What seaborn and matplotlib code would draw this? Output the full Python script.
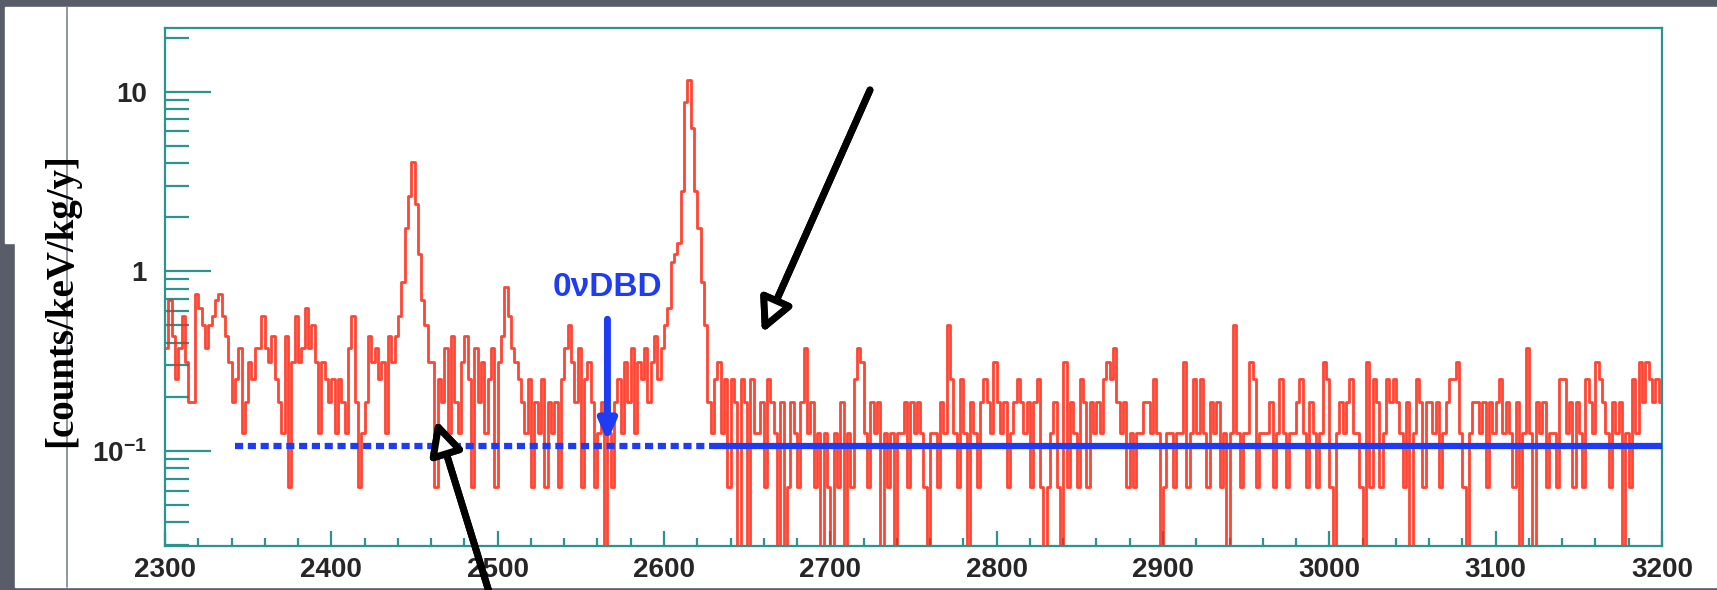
import numpy as np
import pandas as pd
import matplotlib
matplotlib.use('Agg')
import matplotlib.pyplot as plt
from matplotlib.patches import Rectangle
from matplotlib.lines import Line2D
from matplotlib.ticker import FixedLocator, FixedFormatter, LogLocator, MultipleLocator, NullFormatter
import seaborn as sns

# spectrum: counts per 2 keV bin, starting at 2300 keV
bin_start = 2300
bin_width = 2
unit = 0.0625  # one count in counts/keV/kg/y

counts_low = [6, 11, 7, 4, 6, 9, 5, 3, 3,
              12, 10, 8, 6, 8, 9, 11, 12, 9,
              7, 5, 3, 4, 6,
              2, 3, 5, 4, 6, 6,
              9, 6, 5, 7, 4, 3,
              2, 7, 1, 5,
              9, 5, 6, 10, 6,
              8, 5, 2, 5, 4,
              3, 4, 2, 4, 3, 2,
              6, 9, 3, 1,
              2, 3, 7,
              5, 6, 4, 5, 2, 7, 5,
              7]
counts_bi_peak = [9, 14, 28, 42, 65, 38, 20, 11, 8, 5]
counts_mid = [5, 1, 4, 3, 6, 2, 7, 3, 2, 5, 7, 4, 1, 6, 3, 5, 2, 4, 6, 1, 5,
              7, 13, 9, 6, 5, 4, 3, 2,
              4, 1, 3, 2, 4, 1, 3, 2, 3, 1, 4, 6,
              8, 5, 3, 6, 1, 4, 5, 3, 1, 2,
              3, 0, 2, 1, 3,
              4, 2, 5, 3, 6, 2, 5, 4, 6, 3, 5, 7, 4, 6, 8, 10]
counts_tl_peak = [18, 20, 23, 45, 140, 185, 100, 45, 28, 14, 8, 3, 2, 4]
counts_high = [5, 2, 4, 1,
               4, 3, 0, 4, 3, 0, 4, 2,
               2, 3, 1, 4, 3, 2, 0, 3,
               0, 1, 3, 2, 1, 3, 6, 2, 3, 1,
               2, 0, 2, 1, 0, 2, 1, 3, 0, 2,
               1, 4, 6, 5, 2, 1, 3, 2, 3, 0,
               2, 1, 2, 0, 2, 2, 3, 1, 3, 2,
               3, 2, 1, 0, 2, 2, 1, 3, 2, 8,
               4, 2, 1, 4, 2, 0, 3, 2, 1, 3,
               4, 3, 2, 5, 3, 2, 3, 1, 2, 3,
               4, 3, 2, 3, 1, 3,
               4, 1, 0, 1, 2, 3, 1, 0,
               5, 1, 3, 2, 1, 4, 3, 1, 3, 2,
               3, 2, 4, 5, 4, 6, 3, 2, 3, 1,
               2, 1, 2, 2, 3, 3, 2, 4, 2, 0,
               1, 2, 2, 1, 2, 2, 5, 1, 2, 4,
               2, 4, 2, 1, 3, 2, 3, 1, 2, 0,
               2, 8, 2, 1, 2, 2, 5, 4, 1, 2,
               2, 2, 3, 1, 2, 4, 2, 1, 2, 2,
               3, 4, 2, 1, 3, 2, 1, 2, 5, 4,
               1, 0, 2, 3, 2, 3, 4, 2, 2, 1,
               0, 5, 1, 4, 3, 1, 2, 4, 3, 4,
               3, 2, 1, 3, 0, 2, 4, 3, 1, 3,
               3, 2, 3, 1, 2, 3, 4, 4, 5, 2,
               1, 0, 2, 3, 3, 2, 3, 1, 3, 2,
               3, 4, 2, 3, 2, 1, 3, 0, 2, 6,
               2, 0, 3, 2, 3, 1, 2, 2, 1, 4,
               4, 2, 3, 1, 3, 2, 1, 4, 3, 2,
               5, 4, 3, 2, 1, 3, 2, 3, 0, 2,
               1, 4, 2, 5, 3, 5, 4, 3, 4, 3]

counts = np.array(counts_low + counts_bi_peak + counts_mid + counts_tl_peak + counts_high)
edges = bin_start + bin_width * np.arange(len(counts) + 1)
rate = counts * unit
spec = pd.DataFrame({'energy': edges, 'rate': np.append(rate, rate[-1])})

# flat background level: dashed over the region of interest, solid over the fit range
bkg_level = 0.107
roi_x = [2342, 2632]
fit_x = [2632, 3200]
qbb = 2566  # 0vDBD marker position
qbb_label = '0νDBD'

x_ticks = [2300, 2400, 2500, 2600, 2700, 2800, 2900, 3000, 3100, 3200]
y_ticks = [0.1, 1, 10]
y_tick_labels = [r'$\mathbf{10^{-1}}$', '1', '10']

W, H = 1717, 590
teal = '#2b948f'
red = '#ff2410'
blue = '#1f3cf2'
slate = '#595d69'

sns.set_style('white')
plt.rcParams['font.family'] = ['Liberation Sans', 'DejaVu Sans']
plt.rcParams['mathtext.fontset'] = 'custom'
plt.rcParams['mathtext.rm'] = 'Liberation Sans'
plt.rcParams['mathtext.bf'] = 'Liberation Sans:bold'

fig = plt.figure(figsize=(W / 100, H / 100), dpi=100, facecolor=slate)

def fx(x):
    return x / W

def fy(y):
    return 1 - y / H

# white slide panel over the grey background
fig.add_artist(Rectangle((fx(15), fy(587)), 1 - fx(15), (587 - 7) / H,
                         transform=fig.transFigure, color='white', zorder=-2))
fig.add_artist(Rectangle((fx(5), fy(243)), fx(15) - fx(5), (243 - 7) / H,
                         transform=fig.transFigure, color='white', zorder=-2))
fig.add_artist(Line2D([fx(67), fx(67)], [fy(7), fy(587)], transform=fig.transFigure,
                      color='#80848e', lw=1.2, zorder=-1))

ax = fig.add_axes([fx(165), fy(546), fx(1662) - fx(165), (546 - 28) / H])
ax.set_facecolor('white')
ax.set_yscale('log')

sns.lineplot(data=spec, x='energy', y='rate', drawstyle='steps-post', estimator=None,
             color=red, linewidth=2.0, alpha=0.85, ax=ax)

ax.plot(roi_x, [bkg_level, bkg_level], color=blue, lw=4.5, dashes=(1.3, 0.75),
        solid_capstyle='butt', dash_capstyle='butt', zorder=5)
ax.plot(fit_x, [bkg_level, bkg_level], color=blue, lw=4.5, solid_capstyle='butt', zorder=5)

ax.annotate('', xy=(qbb, 0.113), xytext=(qbb, 0.54),
            arrowprops=dict(arrowstyle='-|>,head_length=0.8,head_width=0.35', color=blue,
                            lw=5, mutation_scale=15, shrinkA=0, shrinkB=0), zorder=6)
ax.text(qbb, 0.81, qbb_label, color=blue, fontsize=24, fontweight='bold',
        ha='center', va='center', zorder=6)

ax.set_xlim(2300, 3200)
ax.set_ylim(0.0295, 22.6)
ax.set_xlabel('')
ax.set_ylabel('')

ax.xaxis.set_major_locator(FixedLocator(x_ticks))
ax.xaxis.set_minor_locator(MultipleLocator(20))
ax.yaxis.set_major_locator(FixedLocator(y_ticks))
ax.yaxis.set_major_formatter(FixedFormatter(y_tick_labels))
ax.yaxis.set_minor_locator(LogLocator(base=10, subs=np.arange(2, 10)))
ax.yaxis.set_minor_formatter(NullFormatter())

ax.tick_params(which='both', direction='in', color=teal, width=1.6,
               bottom=True, left=True, top=False, right=False)
ax.tick_params(axis='x', which='major', length=11, pad=8, labelsize=20)
ax.tick_params(axis='x', which='minor', length=6)
ax.tick_params(axis='y', which='major', length=33, pad=13, labelsize=20)
ax.tick_params(axis='y', which='minor', length=17)
for lab in ax.get_xticklabels() + ax.get_yticklabels():
    lab.set_fontweight('bold')

for side in ['left', 'bottom', 'top', 'right']:
    ax.spines[side].set_color(teal)
    ax.spines[side].set_linewidth(1.6)
    ax.spines[side].set_visible(True)

fig.text(fx(62), fy(300), '[counts/keV/kg/y]', rotation=90, ha='center', va='center',
         fontsize=28, fontweight='bold', family=['Liberation Serif', 'DejaVu Serif'], color='black')

# black pointer arrows drawn over the slide
arrow_style = dict(arrowstyle='-|>,head_length=0.9,head_width=0.45', fc='white', ec='black',
                   lw=5, mutation_scale=22, shrinkA=0, shrinkB=0)
fig.add_artist(plt.annotate('', xy=(762, H - 333), xytext=(870, H - 90),
                            xycoords='figure pixels', textcoords='figure pixels',
                            arrowprops=arrow_style, annotation_clip=False))
fig.add_artist(plt.annotate('', xy=(436, H - 420), xytext=(490, -5),
                            xycoords='figure pixels', textcoords='figure pixels',
                            arrowprops=arrow_style, annotation_clip=False))

fig.savefig('out.png', dpi=100, facecolor=slate)
